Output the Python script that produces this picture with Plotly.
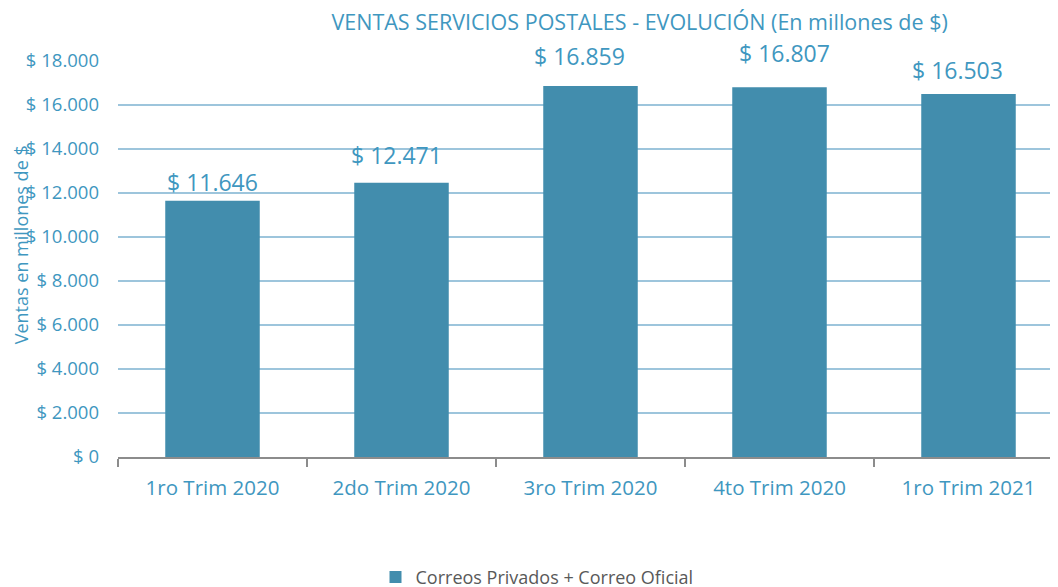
import plotly.graph_objects as go

categories = ["1ro Trim 2020", "2do Trim 2020", "3ro Trim 2020", "4to Trim 2020", "1ro Trim 2021"]
values = [11646, 12471, 16859, 16807, 16503]
labels = ["$ 11.646", "$ 12.471", "$ 16.859", "$ 16.807", "$ 16.503"]
tick_vals = [0, 2000, 4000, 6000, 8000, 10000, 12000, 14000, 16000, 18000]
tick_text = ["$ 0", "$ 2.000", "$ 4.000", "$ 6.000", "$ 8.000", "$ 10.000", "$ 12.000", "$ 14.000", "$ 16.000", "$ 18.000"]

# manual label offsets (pixels), as placed in the original chart
label_dx = [0, -5, -11, 5, -11.5]
label_dy = [19, 28, 30, 34, 24]

blue_text = "#3F97C0"
font_family = "Open Sans"

fig = go.Figure()
fig.add_trace(go.Bar(
    x=categories, y=values, name="Correos Privados + Correo Oficial",
    marker=dict(color="#428DAD", line=dict(width=0)),
    width=0.5,
))

annotations = [dict(text="Ventas en millones de $", textangle=-90,
                    xref="paper", yref="paper", x=-0.1025, y=0.535,
                    xanchor="center", yanchor="middle", showarrow=False,
                    font=dict(size=18, color=blue_text, family=font_family))]
for cat, val, lab, dx, dy in zip(categories, values, labels, label_dx, label_dy):
    annotations.append(dict(x=cat, y=val, text=lab, xref="x", yref="y",
                            showarrow=False, xanchor="center", yanchor="middle",
                            xshift=dx, yshift=dy,
                            font=dict(size=23, color=blue_text, family=font_family)))

fig.update_layout(
    width=1058, height=587,
    margin=dict(l=110, r=3, t=53, b=138),
    paper_bgcolor="white", plot_bgcolor="white",
    font=dict(family=font_family, color=blue_text),
    title=dict(text="VENTAS SERVICIOS POSTALES - EVOLUCIÓN (En millones de $)",
               x=0.597, xanchor="center", y=0.988, yanchor="top",
               font=dict(size=21.5, color=blue_text, family=font_family)),
    showlegend=True,
    legend=dict(orientation="h", xref="container", yref="container",
                x=0.5, xanchor="center", y=0.03, yanchor="middle",
                itemwidth=30,
                font=dict(size=18, color="#595959", family=font_family)),
    bargap=0.5,
    annotations=annotations,
)
fig.update_yaxes(range=[0, 18000], tickvals=tick_vals, ticktext=tick_text,
                 showgrid=True, gridcolor="#9DC5DC", gridwidth=1.5,
                 tickfont=dict(size=18.5, color=blue_text), ticks="", ticklabelstandoff=18,
                 zeroline=False)
fig.update_xaxes(showline=True, linecolor="#8C8C8C", linewidth=1.5,
                 ticks="outside", tickson="boundaries", ticklen=8, tickcolor="#8C8C8C", tickwidth=1.5,
                 ticklabelstandoff=12,
                 tickfont=dict(size=20.5, color=blue_text))

fig.write_html("out.html")
